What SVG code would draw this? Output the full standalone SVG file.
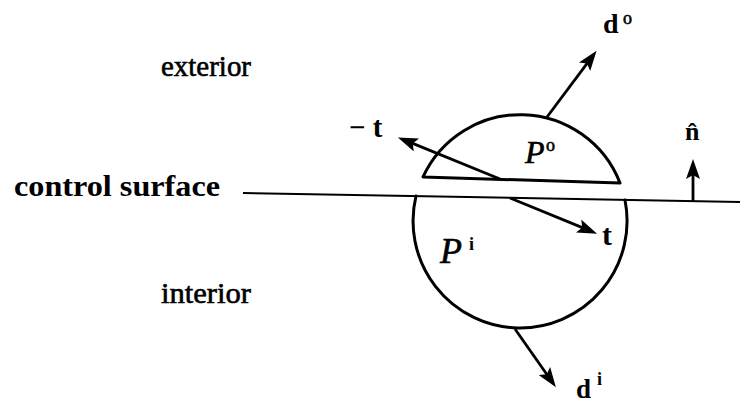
<svg xmlns="http://www.w3.org/2000/svg" width="740" height="406" viewBox="0 0 740 406">
<style>
  .lbl { font-family: "Liberation Serif", "DejaVu Serif", serif; fill: #000; }
  .thick { stroke: #000; stroke-width: 0.6; }
  .bold { font-weight: bold; }
  .it { font-style: italic; }
  .shape { fill: none; stroke: #000; stroke-width: 3; stroke-linejoin: round; stroke-linecap: round; }
  .arrow { fill: none; stroke: #000; stroke-width: 2.8; marker-end: url(#head); }
  .surface { fill: none; stroke: #000; stroke-width: 2; }
</style>
<defs>
  <marker id="head" markerUnits="userSpaceOnUse" viewBox="0 0 20 14" refX="12" refY="7" markerWidth="20" markerHeight="14" orient="auto">
    <path d="M0,0 L20,7 L0,14 L4,7 Z" fill="#000"/>
  </marker>
</defs>
<rect width="740" height="406" fill="#fff"/>

<g id="exterior-label">
  <text class="lbl thick" x="161" y="76" font-size="29" textLength="90" lengthAdjust="spacingAndGlyphs">exterior</text>
</g>
<g id="interior-label">
  <text class="lbl thick" x="161" y="303" font-size="29" textLength="90" lengthAdjust="spacingAndGlyphs">interior</text>
</g>
<g id="control-surface">
  <text class="lbl bold" x="14" y="196" font-size="29" textLength="206" lengthAdjust="spacingAndGlyphs">control surface</text>
  <line class="surface" x1="243" y1="193" x2="740" y2="202"/>
</g>

<g id="region-Po">
  <path class="shape" d="M423,177 A107,107 0 0 1 620,183 Z"/>
  <text class="lbl it thick" x="525" y="163" font-size="32">P</text>
  <text class="lbl thick" x="546" y="151" font-size="18">o</text>
</g>
<g id="region-Pi">
  <path class="shape" d="M416,196 A107,107 0 1 0 625,200"/>
  <text class="lbl it thick" x="440" y="263" font-size="36">P</text>
  <text class="lbl bold" x="469" y="250" font-size="18">i</text>
</g>

<g id="connectors">
  <line class="arrow" x1="547" y1="117" x2="591.8" y2="57.2"/>
  <line class="arrow" x1="500" y1="179" x2="405.3" y2="140.4"/>
  <line class="arrow" x1="510" y1="198" x2="589.7" y2="230.6"/>
  <line class="arrow" x1="515" y1="329" x2="551.3" y2="380.8"/>
  <line class="arrow" x1="693" y1="201" x2="693" y2="167"/>
</g>

<g id="label-do">
  <text class="lbl bold" x="603" y="33" font-size="28">d</text>
  <text class="lbl thick" x="623" y="24" font-size="18">o</text>
</g>
<g id="label-minus-t">
  <text class="lbl bold" x="349" y="137" font-size="29">− t</text>
</g>
<g id="label-t">
  <text class="lbl bold" x="602" y="245" font-size="30">t</text>
</g>
<g id="label-di">
  <text class="lbl bold" x="576" y="398" font-size="27">d</text>
  <text class="lbl bold" x="597" y="385" font-size="18">i</text>
</g>
<g id="label-n">
  <text class="lbl bold" x="685" y="140" font-size="26">n̂</text>
</g>
</svg>
